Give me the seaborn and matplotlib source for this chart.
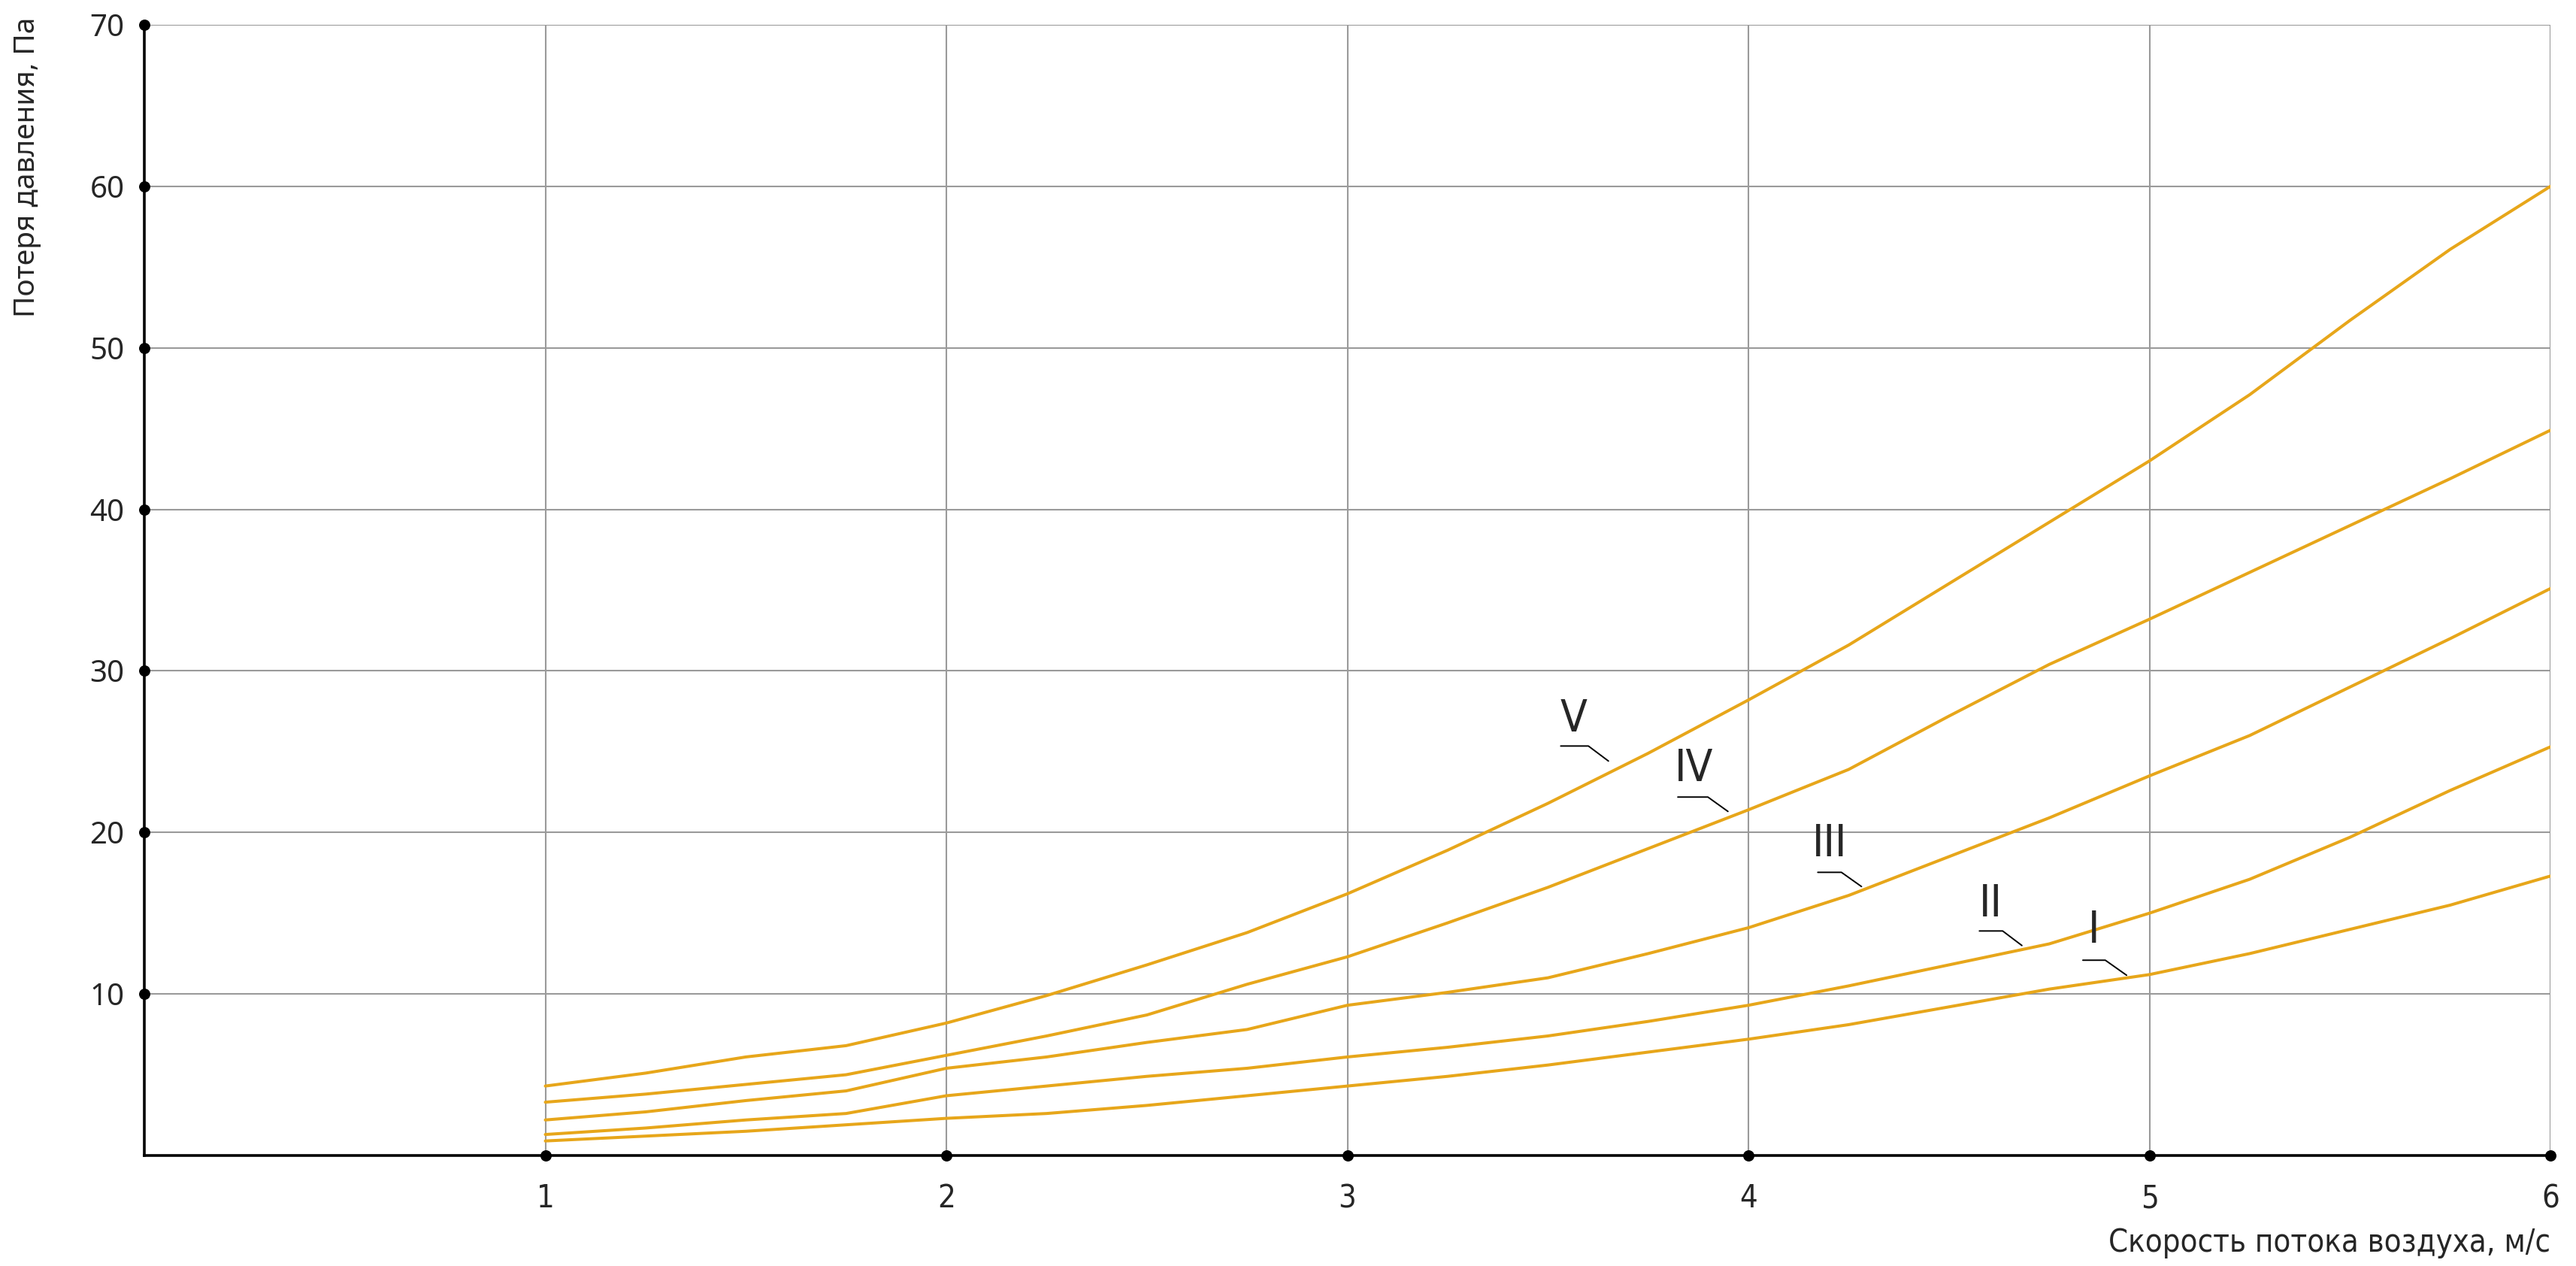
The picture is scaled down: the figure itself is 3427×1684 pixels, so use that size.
import numpy as np
import pandas as pd
import matplotlib
matplotlib.use("Agg")
import matplotlib.pyplot as plt
from matplotlib import font_manager
import seaborn as sns

# air velocity, m/s
speed = [1.0, 1.25, 1.5, 1.75, 2.0, 2.25, 2.5, 2.75, 3.0, 3.25, 3.5,
         3.75, 4.0, 4.25, 4.5, 4.75, 5.0, 5.25, 5.5, 5.75, 6.0]

# pressure loss, Pa
curve_I = [0.9, 1.2, 1.5, 1.9, 2.3, 2.6, 3.1, 3.7, 4.3, 4.9, 5.6,
           6.4, 7.2, 8.1, 9.2, 10.3, 11.2, 12.5, 14.0, 15.5, 17.3]
curve_II = [1.3, 1.7, 2.2, 2.6, 3.7, 4.3, 4.9, 5.4, 6.1, 6.7, 7.4,
            8.3, 9.3, 10.5, 11.8, 13.1, 15.0, 17.1, 19.7, 22.6, 25.3]
curve_III = [2.2, 2.7, 3.4, 4.0, 5.4, 6.1, 7.0, 7.8, 9.3, 10.1, 11.0,
             12.5, 14.1, 16.1, 18.5, 20.9, 23.5, 26.0, 29.0, 32.0, 35.1]
curve_IV = [3.3, 3.8, 4.4, 5.0, 6.2, 7.4, 8.7, 10.6, 12.3, 14.4, 16.6,
            19.0, 21.4, 23.9, 27.2, 30.4, 33.2, 36.1, 39.0, 41.9, 44.9]
curve_V = [4.3, 5.1, 6.1, 6.8, 8.2, 9.9, 11.8, 13.8, 16.2, 18.9, 21.8,
           24.9, 28.2, 31.6, 35.4, 39.2, 43.0, 47.1, 51.7, 56.1, 60.0]

curve_names = ["I", "II", "III", "IV", "V"]
# label text position (x, y) and leader line (x0, x1, x2, y_flat, y_end)
label_pos = [(4.862, 12.6), (4.604, 14.23), (4.203, 17.95), (3.865, 22.6), (3.565, 25.7)]
leaders = [(4.834, 4.890, 4.943, 12.09, 11.16),
           (4.576, 4.634, 4.682, 13.9, 13.0),
           (4.173, 4.232, 4.282, 17.53, 16.65),
           (3.824, 3.899, 3.949, 22.19, 21.3),
           (3.532, 3.601, 3.651, 25.35, 24.42)]

x_ticks = [1, 2, 3, 4, 5, 6]
y_ticks = [10, 20, 30, 40, 50, 60, 70]

frames = []
for name, vals in zip(curve_names, [curve_I, curve_II, curve_III, curve_IV, curve_V]):
    frames.append(pd.DataFrame({"v": speed, "p": vals, "curve": name}))
df = pd.concat(frames, ignore_index=True)

sns.set_style("white")
plt.rcParams['font.family'] = ['Noto Sans', 'DejaVu Sans']

# look for a condensed / narrow face if one is installed
narrow_fp = None
for f in font_manager.fontManager.ttflist:
    n = (f.name + " " + f.fname).lower()
    if ("narrow" in n or "condensed" in n) and "bold" not in n and "italic" not in n \
            and "oblique" not in n:
        narrow_fp = font_manager.FontProperties(fname=f.fname)
        break
have_narrow = narrow_fp is not None
if not have_narrow:
    narrow_fp = font_manager.FontProperties(family=['Noto Sans', 'DejaVu Sans'])

orange = "#E7A61A"

fig = plt.figure(figsize=(34.27, 16.84), dpi=100)
ax = fig.add_axes([192 / 3427, 1 - 1537 / 1684, (3393 - 192) / 3427, (1537 - 33) / 1684])

sns.lineplot(data=df, x="v", y="p", hue="curve", palette=[orange] * 5,
             estimator=None, legend=False, linewidth=2.9, ax=ax, zorder=3)

ax.set_xlim(0, 6)
ax.set_ylim(0, 70)
ax.set_xticks(x_ticks)
ax.set_yticks(y_ticks)
ax.grid(True, color="#9a9a9a", linewidth=1.5, zorder=0)
ax.set_axisbelow(True)

for s in ["top", "right"]:
    ax.spines[s].set_visible(False)
for s in ["left", "bottom"]:
    ax.spines[s].set_color("black")
    ax.spines[s].set_linewidth(2.6)
    ax.spines[s].set_zorder(4)

ax.tick_params(axis="both", length=0)
ax.tick_params(axis="x", pad=26)
ax.tick_params(axis="y", pad=19)
for t in ax.get_xticklabels():
    t.set_fontproperties(narrow_fp)
    t.set_fontsize(30 if have_narrow else 28)
for t in ax.get_yticklabels():
    t.set_fontsize(29)

# dots on the axes at every tick
ax.scatter(x_ticks, [0] * len(x_ticks), s=95, color="black", zorder=5, clip_on=False)
ax.scatter([0] * len(y_ticks), y_ticks, s=95, color="black", zorder=5, clip_on=False)

ax.set_xlabel("")
ax.set_ylabel("")
ax.text(1.0, (1537 - 1653) / 1504, "Скорость потока воздуха, м/с", transform=ax.transAxes,
        ha="right", va="center", fontproperties=narrow_fp,
        fontsize=30 if have_narrow else 28)
fig.text(36 / 3427, 1 - 23 / 1684, "Потеря давления, Па", rotation=90,
         ha="center", va="top", fontsize=28)

for name, (tx, ty), (x0, x1, x2, yf, ye) in zip(curve_names, label_pos, leaders):
    ax.text(tx, ty, name, ha="center", va="bottom", fontproperties=narrow_fp,
            fontsize=42, zorder=6)
    ax.plot([x0, x1, x2], [yf, yf, ye], color="black", linewidth=1.4, zorder=6)

fig.savefig("out.png", dpi=100)
